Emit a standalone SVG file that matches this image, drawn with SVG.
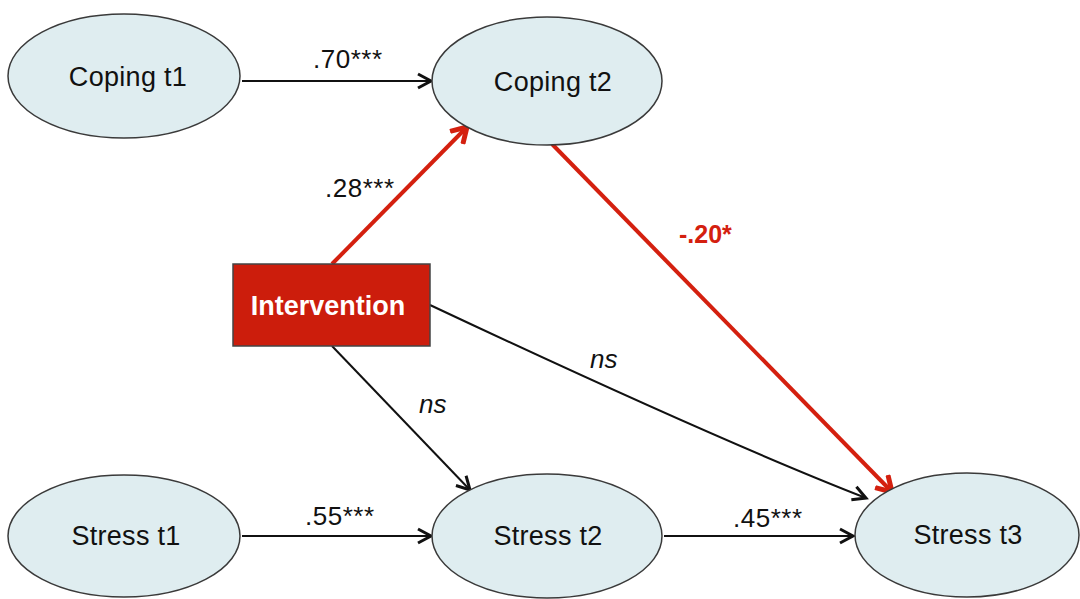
<svg xmlns="http://www.w3.org/2000/svg" width="1080" height="599" viewBox="0 0 1080 599">
<style>
.node{fill:#dfedf0;stroke:#3a3a3a;stroke-width:1.5}
.nt{font-family:"Liberation Sans",Arial,sans-serif;font-size:27px;fill:#111;text-anchor:middle;letter-spacing:0.3px}
.lbl{font-family:"Liberation Sans",Arial,sans-serif;font-size:26px;fill:#111;letter-spacing:0.5px}
.ns{font-family:"Liberation Sans",Arial,sans-serif;font-size:26px;font-style:italic;fill:#111}
.blk{stroke:#111;stroke-width:2;fill:none}
.red{stroke:#d4200f;stroke-width:4;fill:none}
</style>
<defs>
<marker id="ab" markerUnits="userSpaceOnUse" markerWidth="18" markerHeight="18" refX="14" refY="8" orient="auto" viewBox="0 0 18 16">
<path d="M1,1 L14,8 L1,15" fill="none" stroke="#111" stroke-width="3"/>
</marker>
<marker id="ar" markerUnits="userSpaceOnUse" markerWidth="22" markerHeight="22" refX="16" refY="10" orient="auto" viewBox="0 0 22 20">
<path d="M1,1 L16,10 L1,19" fill="none" stroke="#d4200f" stroke-width="5"/>
</marker>
</defs>
<g id="connectors">
<path class="blk" d="M242,81 L431,81" marker-end="url(#ab)"/>
<path class="blk" d="M242,536 L431,536" marker-end="url(#ab)"/>
<path class="blk" d="M664,536 L853,536" marker-end="url(#ab)"/>
<path class="blk" d="M332,346 L470,490" marker-end="url(#ab)"/>
<path class="blk" d="M430,305 Q717,440 866,498" marker-end="url(#ab)"/>
<path class="red" d="M332,264 L467,127" marker-end="url(#ar)"/>
<path class="red" d="M552,144 L892,492" marker-end="url(#ar)"/>
<text class="lbl" x="313" y="68">.70***</text>
<text class="lbl" x="325" y="197">.28***</text>
<text class="lbl" x="305" y="525">.55***</text>
<text class="lbl" x="733" y="527">.45***</text>
<text x="679" y="243" font-family="Liberation Sans, Arial, sans-serif" font-size="25" font-weight="bold" fill="#d4200f">-.20*</text>
<text class="ns" x="590" y="368">ns</text>
<text class="ns" x="419" y="413">ns</text>
</g>
<g id="coping1"><ellipse class="node" cx="124" cy="76" rx="116" ry="62"/><text class="nt" x="128" y="86">Coping t1</text></g>
<g id="coping2"><ellipse class="node" cx="547" cy="81" rx="115" ry="64"/><text class="nt" x="553" y="91">Coping t2</text></g>
<g id="stress1"><ellipse class="node" cx="124" cy="536" rx="116" ry="61"/><text class="nt" x="126" y="545">Stress t1</text></g>
<g id="stress2"><ellipse class="node" cx="547" cy="536" rx="115" ry="62"/><text class="nt" x="548" y="545">Stress t2</text></g>
<g id="stress3"><ellipse class="node" cx="967" cy="535" rx="112" ry="62"/><text class="nt" x="968" y="544">Stress t3</text></g>
<g id="intervention"><rect x="233" y="264" width="197" height="82" fill="#cc1d0c" stroke="#444" stroke-width="1.5"/><text x="328" y="315" text-anchor="middle" font-family="Liberation Sans, Arial, sans-serif" font-size="27" font-weight="bold" fill="#fff">Intervention</text></g>
</svg>
